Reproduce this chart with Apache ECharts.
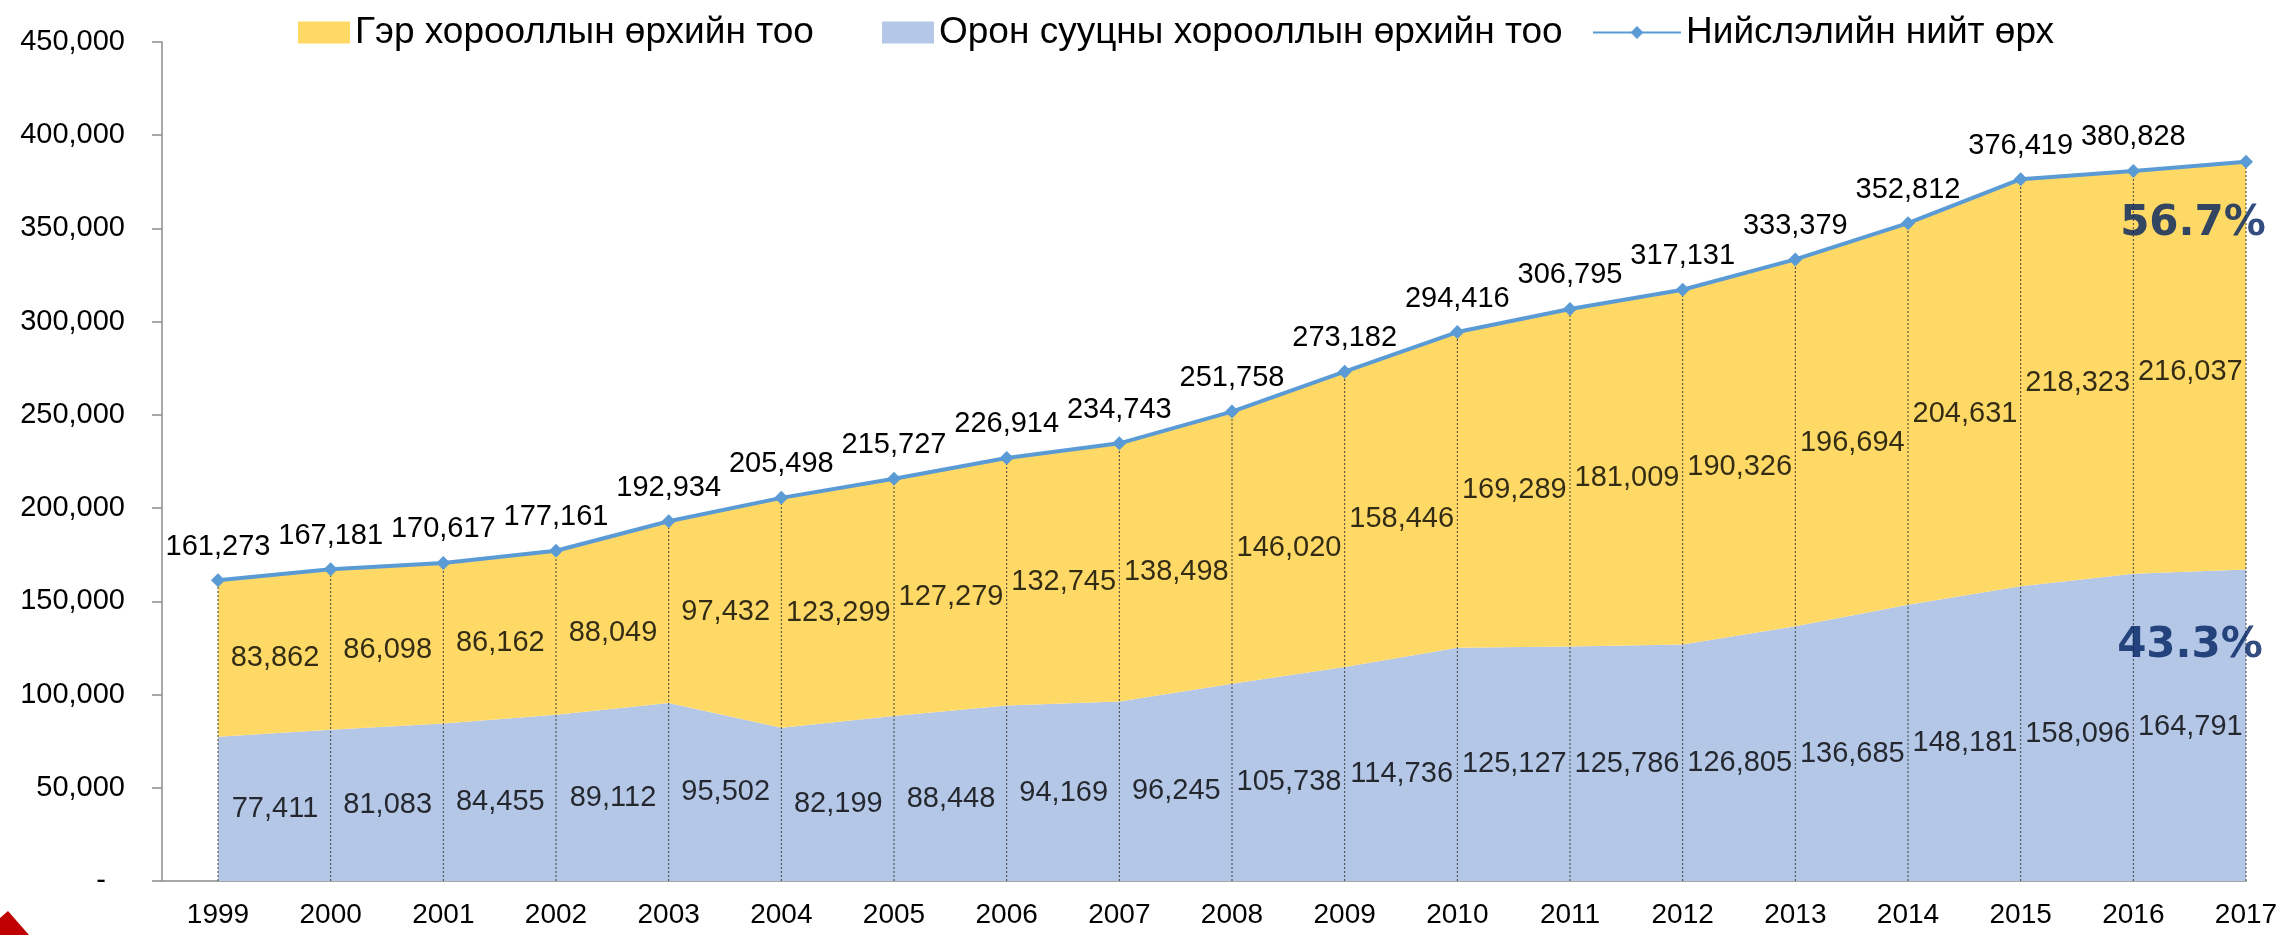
<!DOCTYPE html>
<html>
<head>
<meta charset="utf-8">
<script src="https://cdn.jsdelivr.net/npm/echarts@6/dist/echarts.min.js"></script>
<style>
html,body{margin:0;padding:0;background:#ffffff;}
#chart{width:2283px;height:935px;}
</style>
</head>
<body>
<div id="chart"></div>
<script>
// ---- data ----
const years = ['1999','2000','2001','2002','2003','2004','2005','2006','2007','2008','2009','2010','2011','2012','2013','2014','2015','2016','2017'];
const gerHouseholds = [83862,86098,86162,88049,97432,123299,127279,132745,138498,146020,158446,169289,181009,190326,196694,204631,218323,216037,218750];
const aptHouseholds = [77411,81083,84455,89112,95502,82199,88448,94169,96245,105738,114736,125127,125786,126805,136685,148181,158096,164791,167050];
const totalHouseholds = [161273,167181,170617,177161,192934,205498,215727,226914,234743,251758,273182,294416,306795,317131,333379,352812,376419,380828,385800];
const yTickLabels = ['-','50,000','100,000','150,000','200,000','250,000','300,000','350,000','400,000','450,000'];
const gerName = 'Гэр хорооллын өрхийн тоо';
const aptName = 'Орон сууцны хорооллын өрхийн тоо';
const totalName = 'Нийслэлийн нийт өрх';

// ---- styling ----
const FONT = "'Liberation Sans', Arial, sans-serif";
const YELLOW = '#FFD966';
const LIGHTBLUE = '#B4C7E7';
const LINEBLUE = '#5B9BD5';
const NAVY = '#002060';
const last = years.length - 1;
const fmt = v => Number(v).toLocaleString('en-US');
const pct = (part, whole) => (part / whole * 100).toFixed(1) + '%';

const gridCommon = {top: 42, bottom: 54, right: 37, outerBoundsMode: 'none', containLabel: false};

const chart = echarts.init(document.getElementById('chart'), null, {renderer: 'canvas'});

const option = {
  backgroundColor: '#ffffff',
  animation: false,
  textStyle: {fontFamily: FONT},
  grid: [
    Object.assign({left: 218}, gridCommon),
    Object.assign({left: 162}, gridCommon)
  ],
  legend: [
    {left: 293, top: 9, itemWidth: 52, itemHeight: 22, itemGap: 0,
     data: [{name: gerName, icon: 'rect'}],
     textStyle: {fontSize: 37, color: '#000', fontFamily: FONT}},
    {left: 877, top: 9, itemWidth: 52, itemHeight: 22, itemGap: 0,
     data: [{name: aptName, icon: 'rect'}],
     textStyle: {fontSize: 37, color: '#000', fontFamily: FONT}},
    {left: 1587, top: 9, itemWidth: 88, itemHeight: 16, itemGap: 0,
     data: [{name: totalName}],
     textStyle: {fontSize: 37, color: '#000', fontFamily: FONT}}
  ],
  xAxis: [
    {type: 'category', gridIndex: 0, data: years, boundaryGap: false,
     axisLine: {show: false}, axisTick: {show: false}, splitLine: {show: false},
     axisLabel: {interval: 0, fontSize: 28, color: '#000', margin: 20, fontFamily: FONT}},
    {type: 'value', gridIndex: 1, min: 0, max: 1,
     axisLine: {show: true, lineStyle: {color: '#A6A6A6', width: 2}},
     axisTick: {show: false}, axisLabel: {show: false}, splitLine: {show: false}}
  ],
  yAxis: [
    {type: 'value', gridIndex: 0, min: 0, max: 450000, interval: 50000, show: false, splitLine: {show: false}},
    {type: 'value', gridIndex: 1, min: 0, max: 450000, interval: 50000,
     axisLine: {show: true, lineStyle: {color: '#8C8C8C', width: 1.5}},
     axisTick: {show: true, length: 10, lineStyle: {color: '#8C8C8C', width: 1.5}},
     splitLine: {show: false},
     axisLabel: {
       fontSize: 29, color: '#000', margin: 37, fontFamily: FONT,
       formatter: v => {
         const s = yTickLabels[Math.round(v / 50000)];
         return s === '-' ? '{d|-}' : s;
       },
       rich: {d: {fontSize: 29, color: '#000', padding: [0, 19, 0, 0], fontFamily: FONT}}
     }}
  ],
  series: [
    {name: aptName, type: 'line', stack: 'hh', xAxisIndex: 0, yAxisIndex: 0,
     data: aptHouseholds, symbol: 'none', z: 1,
     lineStyle: {width: 0, color: LIGHTBLUE}, itemStyle: {color: LIGHTBLUE},
     areaStyle: {color: LIGHTBLUE, opacity: 1}},
    {name: gerName, type: 'line', stack: 'hh', xAxisIndex: 0, yAxisIndex: 0,
     data: gerHouseholds, symbol: 'none', z: 1,
     lineStyle: {width: 0, color: YELLOW}, itemStyle: {color: YELLOW},
     areaStyle: {color: YELLOW, opacity: 1}},
    {name: 'drop', type: 'custom', xAxisIndex: 0, yAxisIndex: 0, silent: true, z: 3,
     data: totalHouseholds.map((v, i) => [i, v]),
     renderItem: (params, api) => {
       const p0 = api.coord([api.value(0), 0]);
       const p1 = api.coord([api.value(0), api.value(1)]);
       return {type: 'line', shape: {x1: p0[0], y1: p0[1], x2: p1[0], y2: p1[1]},
               style: {stroke: '#404040', lineWidth: 1, lineDash: [2, 2]}};
     }},
    {name: totalName, type: 'line', xAxisIndex: 0, yAxisIndex: 0, z: 5,
     data: totalHouseholds, symbol: 'diamond', symbolSize: 14,
     lineStyle: {color: LINEBLUE, width: 4}, itemStyle: {color: LINEBLUE},
     label: {show: true, position: 'top', distance: 12, fontSize: 29, color: '#000', fontFamily: FONT,
             formatter: p => p.dataIndex === last ? '' : fmt(p.value)}},
    {name: 'aptLabels', type: 'scatter', xAxisIndex: 0, yAxisIndex: 0, silent: true, z: 6,
     symbolSize: 0,
     data: aptHouseholds.slice(0, last).map((v, i) => [i, v / 2]),
     label: {show: true, position: 'inside', offset: [57, 0], fontSize: 29, color: '#000', fontFamily: FONT,
             formatter: p => fmt(aptHouseholds[p.dataIndex])}},
    {name: 'gerLabels', type: 'scatter', xAxisIndex: 0, yAxisIndex: 0, silent: true, z: 6,
     symbolSize: 0,
     data: gerHouseholds.slice(0, last).map((v, i) => [i, aptHouseholds[i] + v / 2]),
     label: {show: true, position: 'inside', offset: [57, 0], fontSize: 29, color: '#000', fontFamily: FONT,
             formatter: p => fmt(gerHouseholds[p.dataIndex])}},
    {name: 'shares', type: 'scatter', xAxisIndex: 0, yAxisIndex: 0, silent: true, z: 6,
     symbolSize: 0,
     data: [
       {value: [last, totalHouseholds[last]],
        label: {offset: [-53, 62], formatter: () => pct(gerHouseholds[last], totalHouseholds[last])}},
       {value: [last, aptHouseholds[last]],
        label: {offset: [-56, 77], formatter: () => pct(aptHouseholds[last], totalHouseholds[last])}}
     ],
     label: {show: true, position: 'inside', fontSize: 42, fontWeight: 'bold', color: NAVY,
             fontFamily: "'DejaVu Sans', Verdana, sans-serif"}}
  ],
  graphic: [
    {type: 'polygon', silent: true, z: 100,
     shape: {points: [[0, 918], [8, 911], [29, 935], [0, 935]]},
     style: {fill: '#C00000'}}
  ]
};
chart.setOption(option);
</script>
</body>
</html>
